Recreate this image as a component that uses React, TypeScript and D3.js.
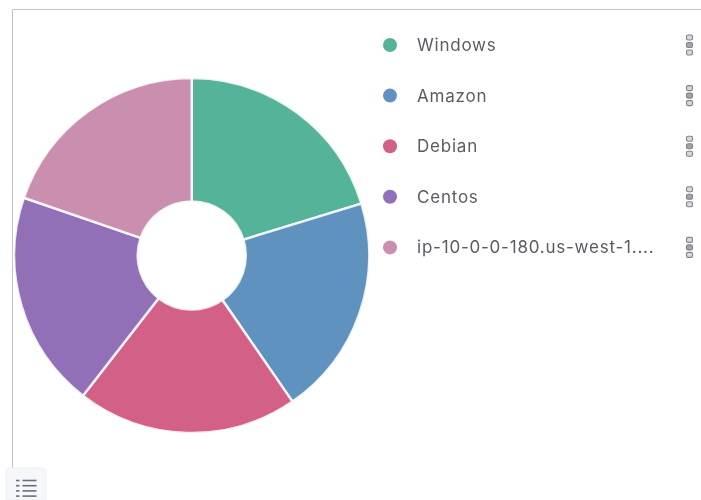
import React from "react";
import * as d3 from "d3";

const categories = ["Windows", "Amazon", "Debian", "Centos", "ip-10-0-0-180.us-west-1...."];
const values = [73, 72.4, 72.4, 71.2, 71];
const colors = ["#54b399", "#6092c0", "#d36086", "#9170b8", "#ca8eae"];

const W = 701, H = 500;
const cx = 191.7, cy = 255.5, R = 177.5, r0 = 54;
const firstRow = 45, rowStep = 50.6;

export default function App() {
  const pie = d3.pie<number>().sort(null)(values);
  const arc = d3.arc<d3.PieArcDatum<number>>().innerRadius(r0).outerRadius(R);
  const rowY = d3.scaleLinear().domain([0, 1]).range([firstRow, firstRow + rowStep]);
  return (
    <svg width={W} height={H} viewBox={`0 0 ${W} ${H}`} style={{ position: "absolute", left: 0, top: 0, filter: "blur(0.6px)" }}>
      <rect width={W} height={H} fill="#fff" />
      <path d={`M12.5 468V9.5H${W}`} fill="none" stroke="#c4c4c4" strokeWidth={1} />
      <g transform={`translate(${cx},${cy})`}>
        {pie.map((d, i) => (
          <path key={i} d={arc(d) as string} fill={colors[i]} stroke="#fff" strokeOpacity={0.85} strokeWidth={2.5} />
        ))}
      </g>
      {categories.map((c, i) => {
        const y = rowY(i);
        return (
          <g key={c}>
            <circle cx={390} cy={y} r={7} fill={colors[i]} />
            <text x={417} y={y} dy="0.35em" fontFamily="Inter, 'Open Sans', sans-serif" fontSize={17} letterSpacing={0.78} fill="#5a5b63">{c}</text>
            {[-7.5, 0, 7.5].map((o) => (
              <rect key={o} x={686.5} y={y + o - 2.5} width={6} height={5} rx={1.5} fill={o === 0 ? "#a3a5ab" : "#d8d9dc"} stroke="#7f8187" strokeWidth={1.1} />
            ))}
          </g>
        );
      })}
      <path d="M6 500V472a4 4 0 0 1 4-4h32a4 4 0 0 1 4 4v28z" fill="#f5f7fa" stroke="#eef0f4" />
      {[0, 1, 2, 3].map((i) => {
        const y = 480.5 + i * 5.2;
        return (
          <g key={i} fill="#69707d">
            <rect x={16} y={y - 0.8} width={3.5} height={1.6} />
            <rect x={22.5} y={y - 0.8} width={14} height={1.6} />
          </g>
        );
      })}
    </svg>
  );
}
